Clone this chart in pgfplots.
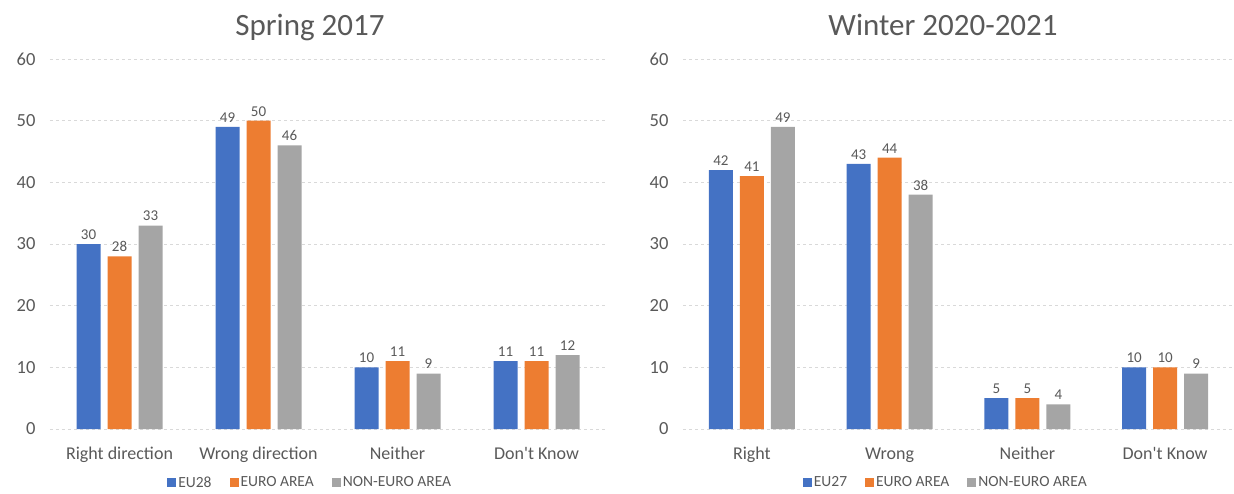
\documentclass[border=0pt]{standalone}
\usepackage{fontspec}
\setmainfont{Carlito}[Ligatures=TeXOff]
\usepackage{pgfplots}
\pgfplotsset{compat=1.18}
\definecolor{cblue}{HTML}{4472C4}
\definecolor{corange}{HTML}{ED7D31}
\definecolor{cgray}{HTML}{A5A5A5}
\definecolor{ctext}{HTML}{595959}
\definecolor{cgrid}{HTML}{D9D9D9}
\pgfplotsset{mystyle/.style={
  scale only axis, height=370pt, anchor=south west,
  ybar=7pt, bar width=24pt,
  xmin=-0.5, xmax=3.5, ymin=0, ymax=60, ytick={0,10,...,60},
  xtick={0,1,2,3},
  axis line style={draw=none}, major tick length=0pt,
  ymajorgrids, grid style={cgrid, dashed, line width=0.8pt},
  /pgf/number format/assume math mode=true,
  yticklabel style={font=\fontsize{18.5}{20}\selectfont, text=ctext, xshift=-11pt},
  xticklabel style={font=\fontsize{18}{20}\selectfont, text=ctext, anchor=base, yshift=-30pt},
  nodes near coords,
  nodes near coords style={font=\fontsize{15}{16}\selectfont, text=ctext, yshift=1pt},
  legend columns=3,
  legend style={draw=none, fill=none, font=\fontsize{15.5}{17}\selectfont, text=ctext,
    anchor=center, inner sep=1pt, /tikz/every even column/.append style={column sep=16pt}},
  legend image code/.code={\fill[##1] (0pt,-4.5pt) rectangle (9pt,4.5pt);},
  clip=false
}}
\begin{document}
\begin{tikzpicture}
\useasboundingbox (0,0) rectangle (1234pt,493pt);
\node[anchor=base, font=\fontsize{31}{34}\selectfont, text=ctext] at (310pt,457pt) {Spring 2017};
\node[anchor=base, font=\fontsize{31}{34}\selectfont, text=ctext] at (943pt,457pt) {Winter 2020-2021};
\begin{axis}[mystyle, at={(50pt,64pt)}, width=556pt,
  xticklabels={Right direction, Wrong direction, Neither, Don't Know},
  legend style={at={(0.468,-0.145)}}]
\addplot[fill=cblue, draw=none] coordinates {(0,30) (1,49) (2,10) (3,11)};
\addplot[fill=corange, draw=none] coordinates {(0,28) (1,50) (2,11) (3,11)};
\addplot[fill=cgray, draw=none] coordinates {(0,33) (1,46) (2,9) (3,12)};
\legend{EU28, EURO AREA, NON-EURO AREA}
\end{axis}
\begin{axis}[mystyle, at={(683pt,64pt)}, width=551pt,
  xticklabels={Right, Wrong, Neither, Don't Know},
  legend style={at={(0.477,-0.145)}}]
\addplot[fill=cblue, draw=none] coordinates {(0,42) (1,43) (2,5) (3,10)};
\addplot[fill=corange, draw=none] coordinates {(0,41) (1,44) (2,5) (3,10)};
\addplot[fill=cgray, draw=none] coordinates {(0,49) (1,38) (2,4) (3,9)};
\legend{EU27, EURO AREA, NON-EURO AREA}
\end{axis}
\end{tikzpicture}
\end{document}
